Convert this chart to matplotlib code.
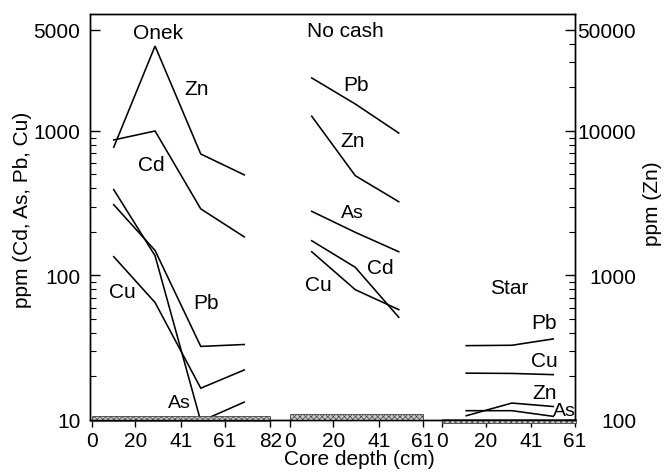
import matplotlib
matplotlib.use('Agg')
import matplotlib.pyplot as plt
from matplotlib.ticker import FixedLocator, NullFormatter
from matplotlib.patches import Rectangle
from matplotlib import font_manager

names = {f.name for f in font_manager.fontManager.ttflist}
main_font = 'Liberation Sans' if 'Liberation Sans' in names else 'DejaVu Sans'
narrow_font = 'Liberation Sans Narrow' if 'Liberation Sans Narrow' in names else main_font
plt.rcParams['font.family'] = [main_font, 'DejaVu Sans']
plt.rcParams['hatch.linewidth'] = 0.5

# ---------------- data ----------------
onek_depth = [10, 29, 50, 70]
onek_zn = [7710, 38700, 6930, 4970]      # right axis (Zn)
onek_cd = [867, 1000, 289, 185]
onek_pb = [309, 149, 32.3, 33.3]
onek_as = [393, 137, 9.8, 13.3]
onek_cu = [135, 65, 16.6, 22.2]

nocash_depth = [10, 30, 50]
nocash_pb = [2329, 1538, 968]
nocash_zn = [12650, 4910, 3240]          # right axis (Zn)
nocash_as = [278, 199, 146]
nocash_cd = [174, 114, 51.4]
nocash_cu = [146, 79.8, 58]

star_depth = [11, 32, 51]
star_pb = [32.7, 32.9, 36.4]
star_cu = [21.1, 21.0, 20.6]
star_zn = [107, 131, 124]                # right axis (Zn)
star_as = [11.6, 11.6, 10.6]

panel_names = ['Onek', 'No cash', 'Star']
panel_ticks = [[0, 20, 41, 61, 82], [0, 20, 41, 61], [0, 20, 41, 61]]
left_major = [10, 100, 1000, 5000]
right_major = [100, 1000, 10000, 50000]

# ---------------- layout ----------------
panel_offsets = [0, 91, 161]
W, H = 666, 477
fig = plt.figure(figsize=(W / 100, H / 100), dpi=100)
ax = fig.add_axes([90 / W, 1 - 421 / H, 485 / W, 406 / H])
ax2 = ax.twinx()

ax.set_yscale('log')
ax2.set_yscale('log')
ax.set_ylim(10, 6450)
ax2.set_ylim(100, 64500)
ax.set_xlim(-0.9, 221.7)

lw = 1.15
kw = dict(color='black', lw=lw, solid_joinstyle='miter')

def gx(depths, panel):
    return [panel_offsets[panel] + d for d in depths]

# Onek
ax2.plot(gx(onek_depth, 0), onek_zn, **kw)
for s in (onek_cd, onek_pb, onek_as, onek_cu):
    ax.plot(gx(onek_depth, 0), s, **kw)
# No cash
ax2.plot(gx(nocash_depth, 1), nocash_zn, **kw)
for s in (nocash_pb, nocash_as, nocash_cd, nocash_cu):
    ax.plot(gx(nocash_depth, 1), s, **kw)
# Star
ax2.plot(gx(star_depth, 2), star_zn, **kw)
for s in (star_pb, star_cu, star_as):
    ax.plot(gx(star_depth, 2), s, **kw)

# hatched bars at the bottom
bars = [(0, 82, 9.89, 10.61), (91, 152.2, 10.05, 11.0), (161, 222.6, 9.53, 10.16)]
for x0, x1, y0, y1 in bars:
    r = Rectangle((x0, y0), x1 - x0, y1 - y0, facecolor='#c8c8c8',
                  edgecolor='#444444', lw=0.6, hatch='xxxxxx', clip_on=False, zorder=3)
    ax.add_patch(r)

fs = 15

# ticks
xt, xl = [], []
for p, ticks in enumerate(panel_ticks):
    for t in ticks:
        xt.append(panel_offsets[p] + t)
        xl.append(str(t))
ax.set_xticks(xt)
ax.set_xticklabels(xl)
ax.tick_params(axis='x', direction='out', length=5, width=1, pad=3, labelsize=fs)

ax.yaxis.set_major_locator(FixedLocator(left_major))
ax.set_yticklabels([str(v) for v in left_major])
left_minor = [m * 10 for m in range(2, 10)] + [m * 100 for m in range(2, 10)]
ax.yaxis.set_minor_locator(FixedLocator(left_minor))
ax.yaxis.set_minor_formatter(NullFormatter())
ax.tick_params(axis='y', which='major', direction='in', length=7, width=1, pad=7, labelsize=fs)
ax.tick_params(axis='y', which='minor', direction='in', length=4, width=0.8)

ax2.yaxis.set_major_locator(FixedLocator(right_major))
ax2.set_yticklabels([str(v) for v in right_major])
right_minor = ([m * 100 for m in range(2, 10)] + [m * 1000 for m in range(2, 10)]
               + [20000, 30000, 40000])
ax2.yaxis.set_minor_locator(FixedLocator(right_minor))
ax2.yaxis.set_minor_formatter(NullFormatter())
ax2.tick_params(axis='y', which='major', direction='in', length=7, width=1, pad=44, labelsize=fs)
ax2.tick_params(axis='y', which='minor', direction='in', length=4, width=0.8)
for lab in ax2.get_yticklabels():
    lab.set_ha('right')

for a in (ax, ax2):
    for sp in a.spines.values():
        sp.set_linewidth(1.0)

# in-plot labels (global x, left-axis value)
texts = [
    ('Onek', 30.3, 4840), ('Zn', 48.2, 1955), ('Cd', 27.1, 582), ('Cu', 14.2, 77),
    ('Pb', 52.3, 65),
    ('No cash', 116.6, 4920), ('Pb', 121.2, 2114), ('Zn', 119.8, 853),
    ('Cd', 132.5, 113), ('Cu', 104.2, 86),
    ('Star', 191.8, 82), ('Pb', 207.9, 47), ('Cu', 207.9, 26), ('Zn', 207.9, 15.6),
]
for s, x, y in texts:
    ax.text(x, y, s, ha='center', va='center', fontsize=fs)
as_texts = [('As', 40.4, 13.3), ('As', 119.8, 275), ('As', 217.1, 11.7)]
for s, x, y in as_texts:
    ax.text(x, y, s, ha='center', va='center', fontsize=fs - 1,
            family=[narrow_font, 'DejaVu Sans'], zorder=4)

# axis titles
fig.text(359 / W, 1 - 460 / H, 'Core depth (cm)', ha='center', va='center', fontsize=fs)
fig.text(23 / W, 1 - 210 / H, 'ppm (Cd, As, Pb, Cu)', ha='center', va='center',
         rotation=90, fontsize=fs)
fig.text(653 / W, 1 - 204 / H, 'ppm (Zn)', ha='center', va='center',
         rotation=90, fontsize=fs)

fig.savefig('out.png', dpi=100)
